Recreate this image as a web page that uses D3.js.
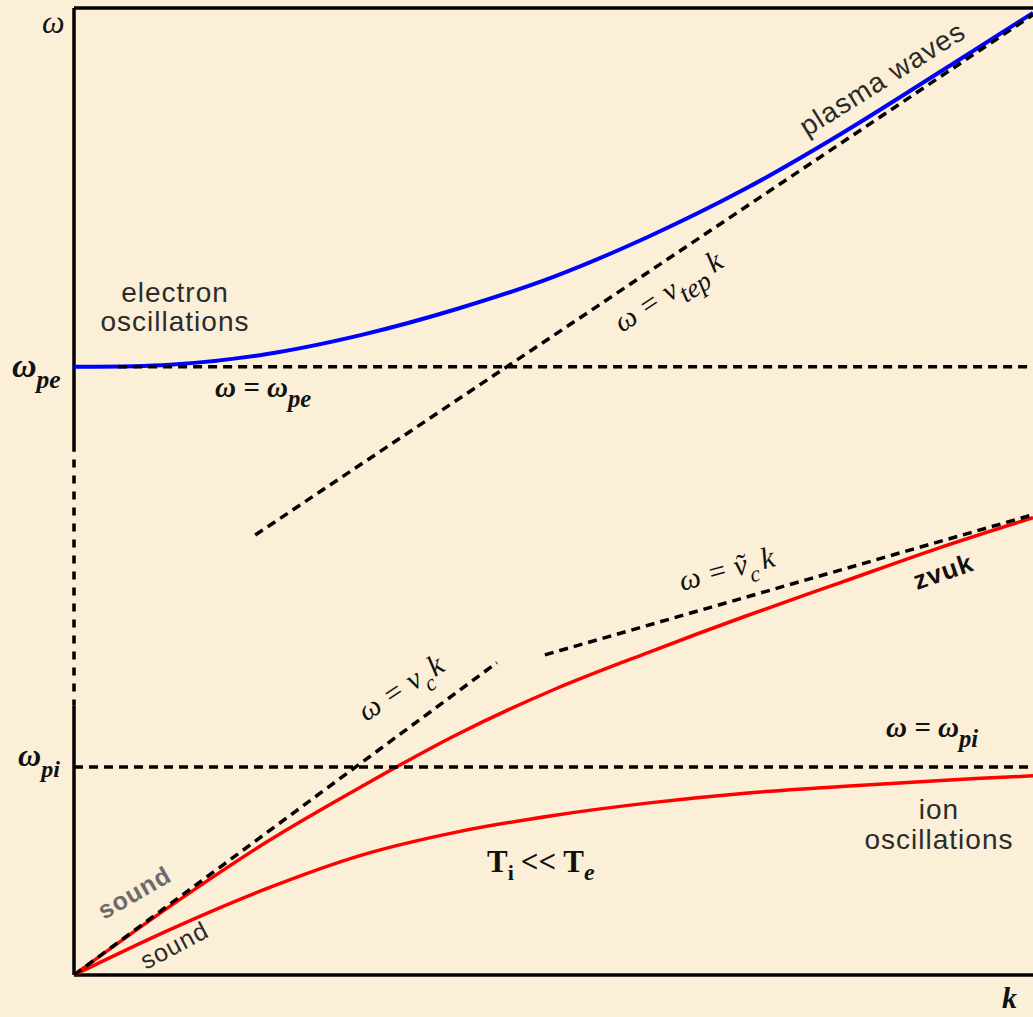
<!DOCTYPE html>
<html>
<head>
<meta charset="utf-8">
<script src="https://cdn.jsdelivr.net/npm/d3@7"></script>
<style>
  html, body { margin: 0; padding: 0; background: #fbefd7; }
  svg { display: block; }
  .sans { font-family: "Liberation Sans", Arial, sans-serif; fill: #2b2b2b; letter-spacing: 1px; }
  .math { font-family: "Liberation Serif", "Times New Roman", serif; font-style: italic; fill: #111; }
</style>
</head>
<body>
<div id="chart"></div>
<script>
// wave number grid and the three dispersion branches (omega)
const kGrid = [0, 1, 2, 3, 4, 5, 6, 7, 8, 9, 10]
const electronWaves = [6.29, 6.31, 6.42, 6.62, 6.89, 7.22, 7.64, 8.13, 8.70, 9.32, 9.95]
const ionSound = [0, 0.71, 1.37, 1.95, 2.49, 2.95, 3.34, 3.71, 4.06, 4.41, 4.73]
const ionCold = [0, 0.47, 0.89, 1.24, 1.48, 1.65, 1.78, 1.88, 1.95, 2.01, 2.06]

// levels and straight asymptotes [k, omega]
const omegaPe = 6.29
const omegaPi = 2.15
const lineVtep = [[1.89, 4.55], [10, 9.93]]
const lineVc = [[0, 0], [4.41, 3.23]]
const lineVcTilde = [[4.91, 3.31], [10, 4.76]]
const pePlateauStart = 0.46

// vertical axis is broken in the middle
const axisSolidTop = [10, 5.41]
const axisDashed = [5.33, 2.79]
const axisSolidBottom = [2.79, 0]

let width = 1033, height = 1017
let svg = d3.select("#chart").append("svg")
    .attr("width", width)
    .attr("height", height)

let x = d3.scaleLinear().domain([0, 10]).range([74, 1033])
let y = d3.scaleLinear().domain([0, 10]).range([975, 8])

let line = d3.line()
    .x(function(d) { return x(d[0]) })
    .y(function(d) { return y(d[1]) })
let curve = d3.line()
    .curve(d3.curveCatmullRom.alpha(0.5))
    .x(function(d) { return x(d[0]) })
    .y(function(d) { return y(d[1]) })

let dash = "9,6"

// frame / axes
svg.append("path")
    .attr("d", line([[0, axisSolidTop[0]], [0, axisSolidTop[1]]]))
    .attr("stroke", "#000").attr("stroke-width", 3.5).attr("fill", "none")
svg.append("path")
    .attr("d", line([[0, axisDashed[0]], [0, axisDashed[1]]]))
    .attr("stroke", "#000").attr("stroke-width", 3.5).attr("fill", "none")
    .attr("stroke-dasharray", "8,8")
svg.append("path")
    .attr("d", line([[0, axisSolidBottom[0]], [0, axisSolidBottom[1]]]))
    .attr("stroke", "#000").attr("stroke-width", 3.5).attr("fill", "none")
svg.append("path")
    .attr("d", line([[0, 10], [10, 10]]))
    .attr("stroke", "#000").attr("stroke-width", 3.5).attr("fill", "none")
svg.append("path")
    .attr("d", line([[0, 0], [10, 0]]))
    .attr("stroke", "#000").attr("stroke-width", 3.5).attr("fill", "none")

// curves
let branches = [
    { vals: electronWaves, color: "#0000ff", w: 4 },
    { vals: ionSound, color: "#ff0000", w: 3.5 },
    { vals: ionCold, color: "#ff0000", w: 3.5 }
]
branches.forEach(function(b) {
    svg.append("path")
        .datum(kGrid.map(function(k, i) { return [k, b.vals[i]] }))
        .attr("fill", "none")
        .attr("stroke", b.color)
        .attr("stroke-width", b.w)
        .attr("d", curve)
})

// dashed reference lines
let dashed = [
    [[pePlateauStart, omegaPe], [10, omegaPe]],
    [[0, omegaPi], [10, omegaPi]],
    lineVtep, lineVc, lineVcTilde
]
dashed.forEach(function(pts) {
    svg.append("path")
        .attr("d", line(pts))
        .attr("fill", "none")
        .attr("stroke", "#000")
        .attr("stroke-width", 3.5)
        .attr("stroke-dasharray", dash)
})

// ---- text ----
function mathText(px, py, size, bold, rot) {
    let t = svg.append("text").attr("class", "math")
        .attr("x", px).attr("y", py)
        .style("font-size", size + "px")
        .style("font-weight", bold ? "bold" : "normal")
    if (rot) t.attr("transform", "rotate(" + rot + "," + px + "," + py + ")")
    return t
}
function sub(t, s, size, scale) {
    scale = scale || 0.75
    t.append("tspan").attr("dy", size * 0.33).style("font-size", (size * scale) + "px").text(s)
    t.append("tspan").attr("dy", -size * 0.33).text("\u200a")
}

mathText(42, 33, 32, false).text("ω")
mathText(1002, 1008, 30, true).text("k")

let t = mathText(12, 377, 34, true); t.append("tspan").text("ω"); sub(t, "pe", 34)
t = mathText(18, 766, 32, true); t.append("tspan").text("ω"); sub(t, "pi", 32)

t = mathText(215, 397, 29, true); t.append("tspan").text("ω = ω"); sub(t, "pe", 29, 0.85)
t = mathText(886, 737, 29, true); t.append("tspan").text("ω = ω"); sub(t, "pi", 29, 0.85)

t = mathText(622, 333, 30, false, -33); t.append("tspan").text("ω = v"); sub(t, "tep", 30, 0.9)
t.append("tspan").attr("dx", 4).text("k")

t = mathText(366, 722, 30, false, -33); t.append("tspan").text("ω = v"); sub(t, "c", 30)
t.append("tspan").text("k")

t = mathText(682, 591, 30, false, -15); t.append("tspan").text("ω = ṽ"); sub(t, "c", 30)
t.append("tspan").attr("dx", 2).text("k")

t = mathText(487, 872, 31, true)
t.append("tspan").style("font-style", "normal").text("T")
t.append("tspan").attr("dy", 8).style("font-size", "22px").style("font-style", "normal").text("i")
t.append("tspan").attr("dy", -8).attr("dx", 7).style("font-style", "normal").text("<< T")
t.append("tspan").attr("dy", 8).style("font-size", "24px").text("e")

// plain labels
function label(txt, px, py, size, opts) {
    opts = opts || {}
    let l = svg.append("text").attr("class", "sans")
        .attr("x", px).attr("y", py)
        .style("font-size", size + "px")
        .attr("text-anchor", opts.anchor || "start")
        .text(txt)
    if (opts.rot) l.attr("transform", "rotate(" + opts.rot + "," + px + "," + py + ")")
    if (opts.bold) l.style("font-weight", "bold")
    if (opts.fill) l.style("fill", opts.fill)
    return l
}

label("electron", 175, 302, 28, { anchor: "middle" })
label("oscillations", 175, 331, 28, { anchor: "middle" })
label("ion", 939, 819, 28, { anchor: "middle" })
label("oscillations", 939, 849, 28, { anchor: "middle" })
label("plasma waves", 807, 137, 28, { rot: -32 })
label("zvuk", 917, 590, 26, { rot: -19, bold: true, fill: "#111" })
label("sound", 104, 920, 25, { rot: -30, bold: true, fill: "#6b6b6b" })
label("sound", 146, 970, 25, { rot: -28 })
</script>
</body>
</html>
